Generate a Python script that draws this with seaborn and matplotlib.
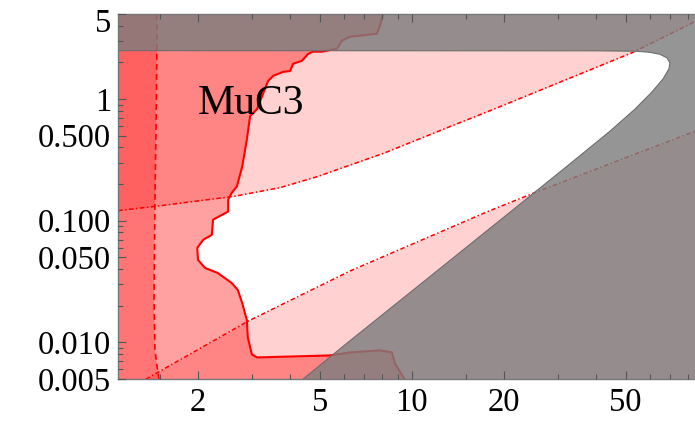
import numpy as np
import pandas as pd
import matplotlib
matplotlib.use("Agg")
import matplotlib.pyplot as plt
import matplotlib.transforms as mtransforms
import seaborn as sns
from matplotlib.ticker import FixedLocator, FixedFormatter, NullFormatter

# ---------------- data ----------------
x_lim = [1.0956, 84.2]
y_lim = [0.005, 5.0]

x_major = [2, 5, 10, 20, 50]
x_major_labels = ["2", "5", "10", "20", "50"]
x_minor = [1.5, 3, 4, 6, 7, 8, 9, 15, 30, 40, 60, 70, 80]
y_major = [0.005, 0.01, 0.05, 0.1, 0.5, 1, 5]
y_major_labels = ["0.005", "0.010", "0.050", "0.100", "0.500", "1", "5"]

# MuC3 exclusion contour (solid red)
muc3_x = [9.50, 8.81, 8.61, 7.87, 6.28, 5.40, 3.12, 3.00, 2.91, 2.89, 2.79, 2.70,
          2.58, 2.32, 2.11, 2.00, 1.99, 2.08, 2.22, 2.24, 2.40, 2.51, 2.51, 2.58,
          2.68, 2.79, 2.89, 2.96, 3.12, 3.39, 3.52, 3.79, 4.00, 4.09, 4.37, 4.58,
          4.75, 5.08, 5.69, 5.91, 6.28, 7.69, 7.87, 8.05]
muc3_y = [0.0049, 0.0067, 0.00827, 0.00859, 0.00827, 0.00781, 0.00752, 0.00796,
          0.0110, 0.0152, 0.0210, 0.0269, 0.0307, 0.0372, 0.0409, 0.0476, 0.0598,
          0.0697, 0.0766, 0.102, 0.112, 0.119, 0.149, 0.170, 0.191, 0.279, 0.467,
          0.724, 0.827, 1.41, 1.55, 1.67, 1.70, 1.95, 2.06, 2.35, 2.45, 2.45, 2.59,
          3.02, 3.25, 3.44, 4.01, 5.0]

# dashed vertical boundary (dark red strip)
strip_x = [1.468, 1.468, 1.458, 1.447, 1.436, 1.447, 1.468, 1.491]
strip_y = [5.0, 2.54, 0.565, 0.149, 0.0223, 0.0086, 0.0065, 0.005]

# upper dash-dot line
up_x = [1.096, 1.444, 2.64, 3.71, 4.93, 8.15, 13.42, 17.7, 52.4, 84.2]
up_y = [0.121, 0.131, 0.159, 0.187, 0.231, 0.361, 0.598, 0.788, 2.40, 4.33]

# lower dash-dot line
lo_x = [1.35, 1.362, 2.91, 6.28, 17.7, 25.2, 84.2]
lo_y = [0.0050, 0.00504, 0.0149, 0.0386, 0.119, 0.170, 0.544]

# allowed (white) region boundary: lower edge + rounded tip, then flat top
bul_x = [4.37, 6.04, 12.36, 21.24, 33.6, 44.4, 53.6, 60.9, 66.2, 69.2, 69.7,
         68.2, 64.7, 60.0, 54.4, 41.2]
bul_y = [0.0049, 0.00954, 0.0405, 0.121, 0.307, 0.544, 0.827, 1.143, 1.463,
         1.77, 1.984, 2.18, 2.33, 2.42, 2.47, 2.49]
band_y = 2.5

label_text = "MuC3"
label_pos = (2.0, 0.75)

# ---------------- figure ----------------
sns.set_theme(style="white")
plt.rcParams["font.family"] = ["Liberation Serif", "DejaVu Serif"]

fig = plt.figure(figsize=(6.95, 4.23), dpi=100)
ax = fig.add_axes([118 / 695, 1 - 379 / 423, 577 / 695, 365 / 423])
ax.set_xscale("log")
ax.set_yscale("log")

red = (1.0, 0.0, 0.0)
ext_lo, ext_hi = 0.004, 6.0
xe_lo, xe_hi = 1.0, 100.0

# pink regions (outside the dash-dot wedge)
ax.fill_between(up_x, up_y, ext_hi, color=red, alpha=0.18, lw=0, zorder=1.0)
ax.fill_between(lo_x, ext_lo, lo_y, color=red, alpha=0.18, lw=0, zorder=1.0)

# MuC3 excluded region (left of contour)
bx = muc3_x + [muc3_x[-1], xe_lo, xe_lo, muc3_x[0]]
by = muc3_y + [ext_hi, ext_hi, ext_lo, ext_lo]
ax.fill(bx, by, color=red, alpha=0.37, lw=0, zorder=1.1)

# dark strip
sx = strip_x + [strip_x[-1], xe_lo, xe_lo, strip_x[0]]
sy = strip_y + [ext_lo, ext_lo, ext_hi, ext_hi]
ax.fill(sx, sy, color=red, alpha=0.27, lw=0, zorder=1.2)

# lines
df_m = pd.DataFrame({"x": muc3_x, "y": muc3_y})
sns.lineplot(data=df_m, x="x", y="y", sort=False, estimator=None, color="red",
             lw=1.5, ax=ax, zorder=2)
df_s = pd.DataFrame({"x": strip_x, "y": strip_y})
sns.lineplot(data=df_s, x="x", y="y", sort=False, estimator=None, color="red",
             lw=1.2, linestyle=(0, (3.5, 2.5)), ax=ax, zorder=2)
df_u = pd.DataFrame({"x": up_x, "y": up_y})
sns.lineplot(data=df_u, x="x", y="y", sort=False, estimator=None, color="red",
             lw=1.1, linestyle=(0, (3, 1.6, 1, 1.6)), ax=ax, zorder=2)
df_l = pd.DataFrame({"x": lo_x, "y": lo_y})
sns.lineplot(data=df_l, x="x", y="y", sort=False, estimator=None, color="red",
             lw=1.1, linestyle=(0, (3, 1.6, 1, 1.6)), ax=ax, zorder=2)

# gray excluded region (outside the allowed bullet)
gx = [xe_lo, xe_hi, xe_hi] + bul_x + [xe_lo]
gy = [ext_hi, ext_hi, ext_lo] + bul_y + [band_y]
ax.fill(gx, gy, color=(125 / 255, 125 / 255, 125 / 255), alpha=0.81, lw=0,
        zorder=2.2)
ax.plot(bul_x + [xe_lo], bul_y + [band_y], color="#6d6d6d", lw=0.8, zorder=2.3,
        solid_joinstyle="round")

ax.text(label_pos[0], label_pos[1], label_text, fontsize=30, ha="left",
        va="baseline", color="black", zorder=4)

ax.set_xlim(*x_lim)
ax.set_ylim(*y_lim)
ax.set_xlabel("")
ax.set_ylabel("")

ax.xaxis.set_major_locator(FixedLocator(x_major))
ax.xaxis.set_major_formatter(FixedFormatter(x_major_labels))
ax.xaxis.set_minor_locator(FixedLocator(x_minor))
ax.xaxis.set_minor_formatter(NullFormatter())
y_minor = [m * 10.0 ** e for e in range(-3, 1) for m in range(2, 10)
           if m != 5 and y_lim[0] < m * 10.0 ** e < y_lim[1]]
ax.yaxis.set_major_locator(FixedLocator(y_major))
ax.yaxis.set_major_formatter(FixedFormatter(y_major_labels))
ax.yaxis.set_minor_locator(FixedLocator(y_minor))
ax.yaxis.set_minor_formatter(NullFormatter())

ax.set_axisbelow(False)
ax.tick_params(which="both", direction="in", colors="#555555", width=0.8,
               top=True, bottom=True, left=True, right=False,
               labelcolor="black", labelsize=23.5)
ax.tick_params(which="major", length=6)
ax.tick_params(which="minor", length=3.5)
ax.tick_params(axis="x", pad=6)
ax.tick_params(axis="y", pad=5)

# the top "5" label sits a little below its tick in the reference
top_tick = ax.yaxis.get_major_ticks()[-1]
top_tick.label1.set_transform(
    top_tick.label1.get_transform()
    + mtransforms.ScaledTranslation(0, -6 / 100, fig.dpi_scale_trans))

for side in ["left", "bottom", "top"]:
    ax.spines[side].set_color("#777777")
    ax.spines[side].set_linewidth(1.0)
ax.spines["right"].set_visible(False)

fig.savefig("out.png", dpi=100)
